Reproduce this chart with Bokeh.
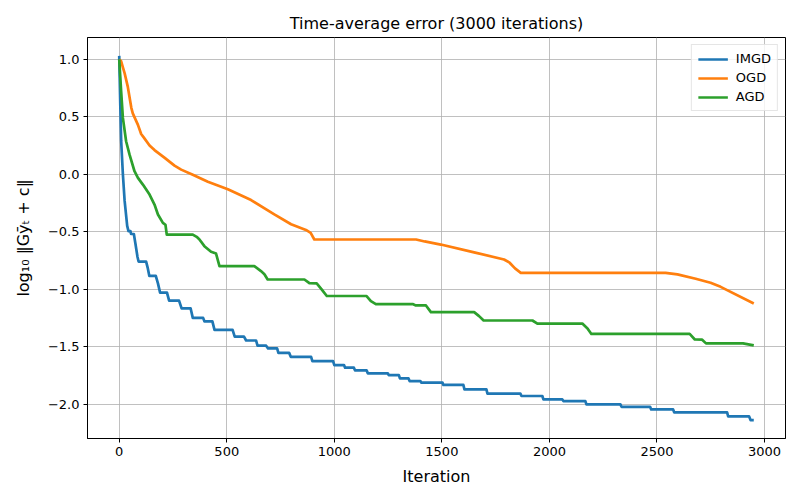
from bokeh.plotting import figure
from bokeh.models import Range1d, FixedTicker, Legend, LegendItem, ColumnDataSource
from bokeh.embed import file_html
from bokeh.resources import INLINE

# Breakpoints of the time-averaged error curves (iteration, log10 error)
imgd_iter = [0, 5, 9, 17, 25, 37, 43, 52, 55, 68, 75, 85, 90, 125, 133, 140, 170, 180, 190, 222,
             232, 278, 290, 332, 342, 390, 396, 433, 443, 527, 537, 580, 590, 636, 643, 683,
             692, 734, 740, 790, 798, 892, 898, 994, 1000, 1045, 1050, 1091, 1096, 1150,
             1156, 1249, 1253, 1300, 1305, 1345, 1350, 1400, 1405, 1503, 1507, 1600, 1605, 1707,
             1712, 1865, 1870, 1967, 1972, 2060, 2065, 2167, 2172, 2330, 2335, 2468, 2473, 2575,
             2580, 2826, 2831, 2928, 2935, 2950]
imgd_err = [1.03, 0.6, 0.29, 0.0, -0.23, -0.45, -0.495, -0.495, -0.52, -0.52, -0.6, -0.72, -0.76, -0.76,
            -0.82, -0.885, -0.885, -0.95, -1.03, -1.03, -1.10, -1.10, -1.168, -1.168, -1.25, -1.25,
            -1.28, -1.28, -1.355, -1.355, -1.413, -1.413, -1.447, -1.447, -1.492, -1.492,
            -1.516, -1.516, -1.555, -1.555, -1.59, -1.59, -1.626, -1.626, -1.661, -1.661, -1.684, -1.684,
            -1.707, -1.707, -1.733, -1.733, -1.748, -1.748, -1.777, -1.777, -1.80, -1.80, -1.814, -1.814,
            -1.834, -1.834, -1.873, -1.873, -1.91, -1.91, -1.93, -1.93, -1.96, -1.96, -1.974, -1.974,
            -2.003, -2.003, -2.024, -2.024, -2.047, -2.047, -2.072, -2.072, -2.107, -2.107, -2.14, -2.14]

ogd_iter = [0, 9, 17, 25, 40, 56, 63, 87, 102, 118, 141, 164, 210, 257, 288, 342, 412, 505, 613, 721,
            799, 868, 890, 907, 1380, 1420, 1495, 1650, 1789, 1815, 1840, 1867, 2540, 2595, 2680,
            2749, 2796, 2950]
ogd_err = [1.0, 0.983, 0.93, 0.88, 0.76, 0.58, 0.53, 0.43, 0.35, 0.31, 0.25, 0.21, 0.145, 0.075, 0.04,
           -0.005, -0.065, -0.13, -0.225, -0.35, -0.435, -0.485, -0.51, -0.568, -0.568, -0.585, -0.612,
           -0.68, -0.742, -0.77, -0.82, -0.858, -0.858, -0.872, -0.91, -0.945, -0.98, -1.125]

agd_iter = [0, 9, 17, 32, 48, 71, 87, 110, 141, 164, 180, 203, 215, 221, 342, 360, 373, 396, 427, 450,
            466, 628, 659, 675, 690, 861, 884, 918, 940, 965, 1150, 1170, 1193, 1364, 1379, 1426,
            1449, 1650, 1673, 1694, 1921, 1944, 2153, 2177, 2195, 2652, 2676, 2710, 2728, 2900, 2950]
agd_err = [1.0, 0.72, 0.49, 0.287, 0.17, 0.026, -0.032, -0.09, -0.177, -0.264, -0.35, -0.423, -0.44,
           -0.525, -0.525, -0.545, -0.568, -0.626, -0.675, -0.69, -0.80, -0.80, -0.843, -0.87, -0.916,
           -0.916, -0.948, -0.95, -1.0, -1.06, -1.06, -1.104, -1.13, -1.13, -1.142, -1.142, -1.20,
           -1.20, -1.235, -1.273, -1.273, -1.30, -1.30, -1.342, -1.39, -1.39, -1.438, -1.44, -1.472,
           -1.472, -1.49]

series_names = ["IMGD", "OGD", "AGD"]
series_colors = ["#1f77b4", "#ff7f0e", "#2ca02c"]

x_ticks = [0, 500, 1000, 1500, 2000, 2500, 3000]
y_ticks = [-2.0, -1.5, -1.0, -0.5, 0.0, 0.5, 1.0]
y_tick_labels = ["\u22122.0", "\u22121.5", "\u22121.0", "\u22120.5", "0.0", "0.5", "1.0"]

FONT = "DejaVu Sans"

p = figure(width=800, height=500, output_backend="svg", toolbar_location=None,
           x_range=Range1d(-147.5, 3097.5), y_range=Range1d(-2.30, 1.19),
           min_border_left=87, min_border_right=15, min_border_top=37, min_border_bottom=62,
           title="Time-average error (3000 iterations)")

p.title.text_font = FONT
p.title.text_font_size = "16px"
p.title.text_font_style = "normal"
p.title.align = "center"
p.title.text_color = "#000000"

p.background_fill_color = "white"
p.border_fill_color = "white"
p.outline_line_color = "black"
p.outline_line_width = 1
p.outline_line_alpha = 1

for grid in (p.xgrid, p.ygrid):
    grid.grid_line_color = "#b0b0b0"
    grid.grid_line_width = 0.8

p.xaxis.ticker = FixedTicker(ticks=x_ticks)
p.yaxis.ticker = FixedTicker(ticks=y_ticks)
p.yaxis.major_label_overrides = {t: s for t, s in zip(y_ticks, y_tick_labels)}

for ax in (p.xaxis[0], p.yaxis[0]):
    ax.axis_line_color = "black"
    ax.major_tick_line_color = "black"
    ax.major_tick_out = 4
    ax.major_tick_in = 0
    ax.minor_tick_line_color = None
    ax.major_label_text_font = FONT
    ax.major_label_text_font_size = "13px"
    ax.major_label_text_color = "#000000"
    ax.axis_label_text_font = FONT
    ax.axis_label_text_font_size = "16px"
    ax.axis_label_text_font_style = "normal"
    ax.axis_label_text_color = "#000000"

p.xaxis.axis_label = "Iteration"
p.yaxis.axis_label = "log\u2081\u2080 \u2016G\u0233\u209c + c\u2016"
p.xaxis.axis_label_standoff = 8
p.yaxis.axis_label_standoff = 12
p.xaxis.major_label_standoff = 4
p.yaxis.major_label_standoff = 4

renderers = []
for name, color, xs, ys in zip(series_names, series_colors,
                               [imgd_iter, ogd_iter, agd_iter],
                               [imgd_err, ogd_err, agd_err]):
    src = ColumnDataSource(dict(x=xs, y=ys))
    r = p.line("x", "y", source=src, line_color=color, line_width=2.7, line_join="round")
    renderers.append((name, r))

legend = Legend(items=[LegendItem(label=n, renderers=[r]) for n, r in renderers],
                location="top_right")
legend.label_text_font = FONT
legend.label_text_font_size = "13px"
legend.label_text_color = "#000000"
legend.glyph_width = 30
legend.glyph_height = 14
legend.label_standoff = 8
legend.spacing = 4
legend.padding = 6
legend.margin = 7
legend.border_line_color = "#cccccc"
legend.border_line_width = 1
legend.background_fill_alpha = 0.8
p.add_layout(legend)

open("out.html", "w").write(file_html(p, INLINE))
